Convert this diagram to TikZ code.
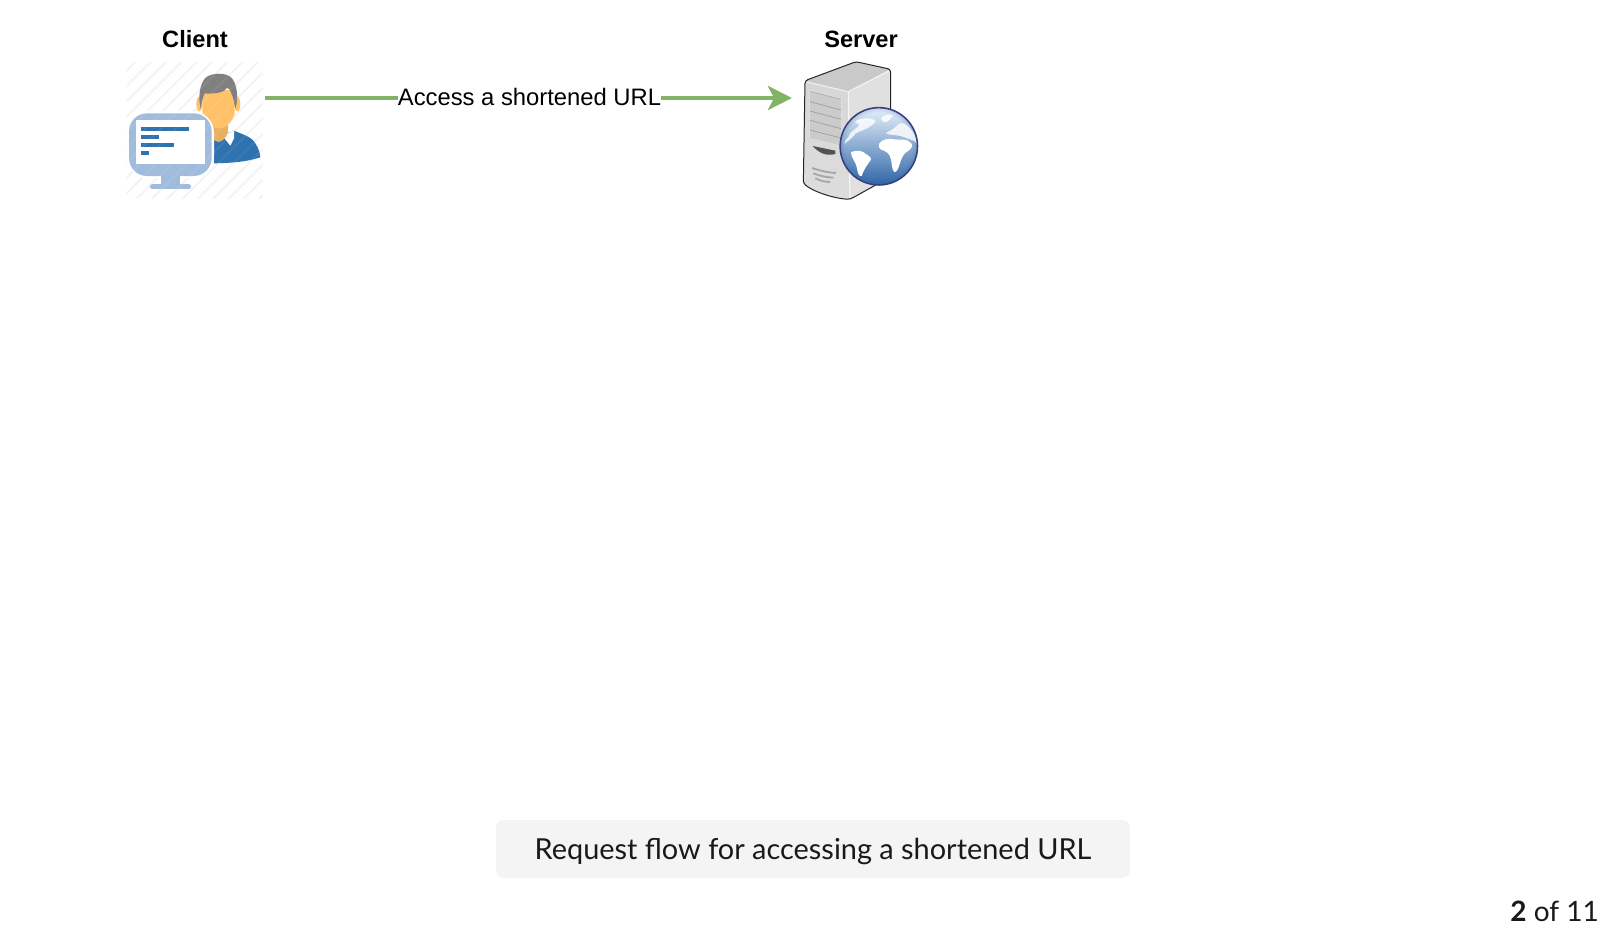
\documentclass[tikz,border=0pt]{standalone}
\usepackage{fontspec}
\setmainfont{Liberation Sans}
\newfontfamily\capfont{Lato}
\usetikzlibrary{arrows.meta,calc}
\definecolor{flowgreen}{HTML}{82B366}
\definecolor{capbg}{HTML}{F4F4F4}
\definecolor{hatch}{HTML}{F3F3F3}
\definecolor{hair}{HTML}{808080}
\definecolor{skin}{HTML}{FFC269}
\definecolor{neck}{HTML}{E9B05F}
\definecolor{shirt}{HTML}{2F72B0}
\definecolor{monitor}{HTML}{A0BCDD}
\definecolor{globeedge}{HTML}{3C3F7C}
\definecolor{globetop}{HTML}{E6F0FA}
\definecolor{globemid}{HTML}{B2CDEA}
\definecolor{globelow}{HTML}{2F66A8}
\definecolor{towertop}{HTML}{C9C9C9}
\definecolor{towerside}{HTML}{E0E0E0}
\definecolor{towerfrontA}{HTML}{D6D6D6}
\definecolor{towerfrontB}{HTML}{DDDDDD}
\definecolor{baygrey}{HTML}{CBCBCB}
\tikzset{
  title/.style={anchor=base,inner sep=0pt,font=\fontsize{23.6}{28}\selectfont\bfseries,text=black},
  flowlabel/.style={anchor=base,inner sep=0pt,font=\fontsize{23.8}{28}\selectfont,text=black},
  flow/.style={draw=flowgreen,line width=4pt},
  flowtip/.style={-{Stealth[length=24pt,width=24pt,inset=6pt,fill=flowgreen]}},
  iconbox/.style={minimum width=136pt,minimum height=135pt,inner sep=0pt,draw=none},
  serverbox/.style={minimum width=128pt,minimum height=140pt,inner sep=0pt,draw=none},
  captext/.style={anchor=base,inner sep=0pt,font=\capfont\fontsize{28.9}{34}\selectfont,text=black!90},
  pagecount/.style={anchor=base east,inner sep=0pt,font=\capfont\fontsize{28}{34}\selectfont,text=black!90},
  tower/.style={draw=black!85,line width=1pt,line join=round,rounded corners=3pt},
  bayline/.style={draw=black!38,line width=0.7pt},
  land/.style={fill=white,draw=none},
}
\begin{document}
\begin{tikzpicture}[x=1pt,y=-1pt]
\useasboundingbox (0,0) rectangle (1620,935);
\fill[white] (0,0) rectangle (1620,935);

% ---- client icon (coordinates in 1/3 px)
\node[iconbox] (client) at (195,130.5) {};
\begin{scope}[shift={(110,10)},x=0.33333pt,y=-0.33333pt]
  \begin{scope}
    \clip (50,158) rectangle (458,565);
    \foreach \k in {-8,...,10}
      \draw[hatch,line width=1.8pt] ({\k*46+30},570) -- ++(420,-420);
  \end{scope}
  % ears
  \fill[skin] (268,282) ellipse (9 and 22);
  \fill[skin] (382,282) ellipse (9 and 22);
  % body
  \fill[shirt] (312,388) -- (372,362) .. controls (395,372) and (425,380) .. (436,400)
     .. controls (446,415) and (450,430) .. (451,442)
     .. controls (410,456) and (360,459) .. (312,460) -- cycle;
  \fill[white] (338,378) -- (372,362) -- (372,385) -- (361,407) -- cycle;
  % neck
  \fill[neck] (296,330) -- (354,330) -- (354,365) .. controls (350,385) and (335,395) .. (325,396)
     .. controls (312,392) and (300,385) .. (296,365) -- cycle;
  % face
  \fill[skin] (277,240) -- (374,240) -- (374,310) .. controls (368,338) and (345,355) .. (325,355)
     .. controls (305,355) and (282,338) .. (277,310) -- cycle;
  % hair
  \fill[hair] (272,296) .. controls (264,265) and (268,225) .. (285,205)
     .. controls (300,188) and (350,185) .. (366,205)
     .. controls (382,225) and (386,265) .. (376,296)
     .. controls (373,285) and (372,265) .. (362,245)
     .. controls (356,232) and (350,232) .. (345,240)
     .. controls (335,250) and (300,252) .. (284,250)
     .. controls (277,262) and (276,280) .. (272,296) -- cycle;
  % monitor
  \fill[white,rounded corners=22pt] (50,303) rectangle (312,505);
  \fill[monitor] (152,490) rectangle (210,528);
  \draw[monitor,line width=4.8pt,line cap=round] (127,530) -- (236,530);
  \fill[monitor,rounded corners=18pt] (57,310) rectangle (305,498);
  \fill[white] (77,330) rectangle (285,463);
  \fill[shirt] (93,352) rectangle (237,362);
  \fill[shirt] (93,376) rectangle (146,386);
  \fill[shirt] (93,400) rectangle (192,410);
  \fill[shirt] (93,424) rectangle (118,434);
  % faint stripes over the picture
  \begin{scope}
    \clip (50,158) rectangle (458,565);
    \foreach \k in {-8,...,10}
      \draw[white,opacity=0.07,line width=1.8pt] ({\k*46+30},570) -- ++(420,-420);
  \end{scope}
\end{scope}

% ---- server icon (coordinates in 1/3 px)
\node[serverbox] (server) at (856,130) {};
\begin{scope}[shift={(770,10)},x=0.33333pt,y=-0.33333pt]
  \fill[towertop] (105,212) -- (258,155) -- (362,178) -- (235,245) -- cycle;
  \fill[towerside] (235,245) -- (362,178) -- (362,500) -- (240,568) -- cycle;
  \shade[top color=towerfrontA,bottom color=towerfrontB] (105,212) -- (235,245) -- (240,568)
     .. controls (190,565) and (130,545) .. (100,520) -- cycle;
  \draw[white,opacity=0.6,line width=1.2pt] (235,245) -- (362,180);
  \draw[white,opacity=0.7,line width=1.2pt] (235,245) -- (240,566);
  \draw[white,opacity=0.6,line width=1pt] (105,215) -- (235,245);
  \draw[tower] (100,520) -- (105,212) -- (258,155) -- (362,178) -- (362,500) -- (240,568)
     .. controls (190,565) and (130,545) .. (100,520) -- cycle;
  % drive bay
  \fill[baygrey,draw=towerfrontB,line width=1pt] (118,240) -- (215,266) -- (215,408) -- (118,386) -- cycle;
  \foreach \a/\b in {275/300,303/328,331/356,360/384}
    \draw[bayline] (120,\a) -- (213,\b);
  \draw[black!32,line width=0.7pt] (121,244) -- (212,268);
  % slot
  \fill[black!68] (128,408) -- (196,422) -- (196,432) .. controls (170,438) and (150,432) .. (128,408) -- cycle;
  % vents
  \draw[black!35,line width=1.8pt] (126,474) .. controls (150,482) and (175,488) .. (198,489);
  \draw[black!35,line width=1.8pt] (130,490) .. controls (150,498) and (170,502) .. (190,503);
  \draw[black!35,line width=1.8pt] (136,505) .. controls (150,512) and (165,516) .. (180,516);
\end{scope}

% globe (coordinates in 1/3 px, own origin)
\begin{scope}[shift={(835,100)},x=0.33333pt,y=-0.33333pt,yshift=-1.3pt]
  \coordinate (gc) at (131.5,135);
  \shade[top color=globetop,middle color=globemid,bottom color=globelow] (gc) circle (116);
  \begin{scope}
    \clip (gc) circle (115);
    \foreach \r/\o in {112/0.14,106/0.08}
      \draw[globelow,opacity=\o,line width=2.2pt] (gc) circle (\r);
    % greenland
    \fill[land,opacity=0.85] (138,50) .. controls (146,42) and (165,36) .. (174,42)
       .. controls (168,50) and (162,60) .. (152,63)
       .. controls (144,63) and (138,57) .. (138,50) -- cycle;
    % north america
    \fill[land,opacity=0.8] (28,128) .. controls (38,118) and (48,115) .. (55,105)
       .. controls (60,92) and (80,90) .. (98,80)
       .. controls (108,75) and (116,68) .. (122,60)
       .. controls (116,52) and (100,48) .. (84,52)
       .. controls (74,54) and (62,57) .. (60,63)
       .. controls (72,66) and (78,72) .. (64,80)
       .. controls (54,88) and (42,95) .. (40,108)
       .. controls (35,114) and (26,118) .. (28,128) -- cycle;
    % eurasia
    \fill[land,opacity=0.8] (152,96) .. controls (164,88) and (176,84) .. (186,72)
       .. controls (196,60) and (214,66) .. (226,82)
       .. controls (238,96) and (246,112) .. (248,128)
       -- (236,118) .. controls (224,114) and (210,108) .. (196,104)
       .. controls (180,100) and (164,102) .. (152,96) -- cycle;
    % africa
    \fill[land] (132,128) .. controls (140,114) and (160,110) .. (178,114)
       .. controls (195,117) and (215,110) .. (226,124)
       .. controls (236,128) and (230,143) .. (220,148)
       .. controls (204,158) and (200,170) .. (194,188)
       .. controls (190,203) and (184,214) .. (178,212)
       .. controls (171,207) and (171,190) .. (168,175)
       .. controls (165,155) and (150,148) .. (138,145)
       .. controls (132,142) and (130,135) .. (132,128) -- cycle;
    % south america
    \fill[land] (48,153) .. controls (58,147) and (74,147) .. (84,152)
       .. controls (94,160) and (110,166) .. (108,175)
       .. controls (98,190) and (88,200) .. (80,224)
       .. controls (72,226) and (68,216) .. (66,200)
       .. controls (62,180) and (48,170) .. (48,153) -- cycle;
  \end{scope}
  \draw[globeedge,line width=1.6pt] (gc) circle (116);
\end{scope}

% ---- titles
\node[title] (clienttitle) at (195,47.5) {Client};
\node[title] (servertitle) at (861,47.5) {Server};

% ---- flow
\coordinate (flowstart) at (265,98);
\coordinate (flowend) at (792,98);
\node[flowlabel] (flowtext) at (529.5,105) {Access a shortened URL};
\draw[flow] (flowstart) -- (flowtext.west |- flowstart);
\draw[flow,flowtip] (flowtext.east |- flowend) -- (flowend);

% ---- caption
\fill[capbg,rounded corners=8pt] (496,820) rectangle (1130,878);
\node[captext] (capnode) at (813,859) {Request flow for accessing a shortened URL};
\node[pagecount] (pagenode) at (1599,921) {\textbf{2} of 11};
\end{tikzpicture}
\end{document}
